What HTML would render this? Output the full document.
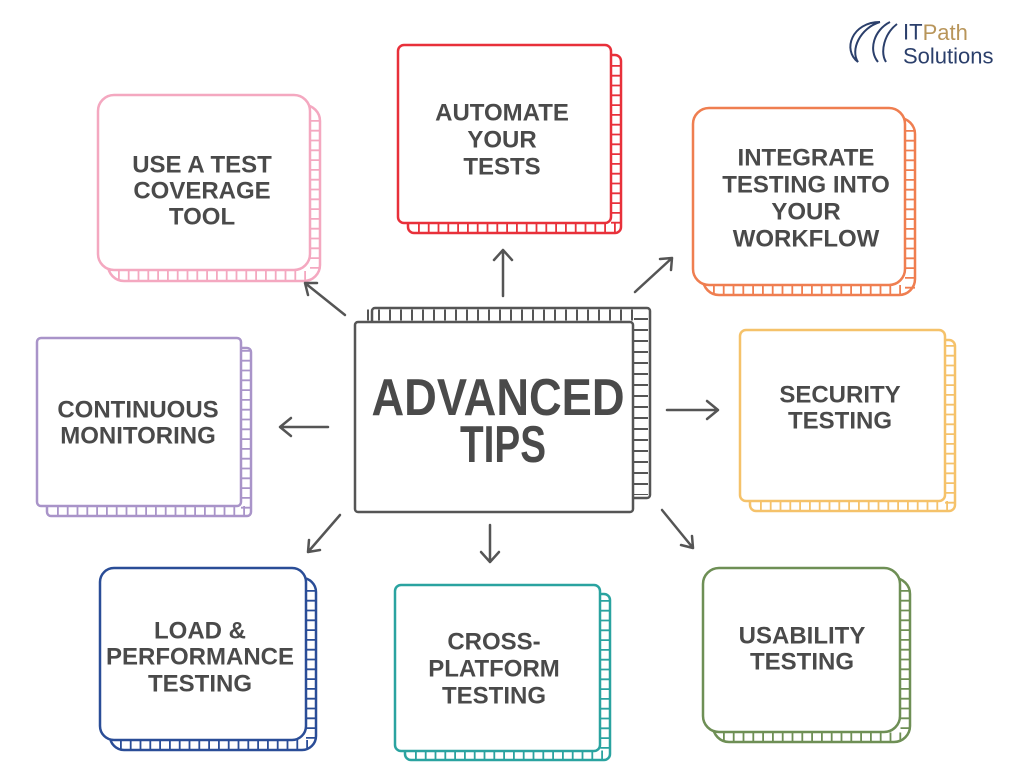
<!DOCTYPE html>
<html><head><meta charset="utf-8"><style>
html,body{margin:0;padding:0;background:#fff;width:1024px;height:768px;overflow:hidden}
svg text{font-family:"Liberation Sans",sans-serif;font-weight:bold;fill:#4a4a4a;text-anchor:middle;dominant-baseline:central}
.h{stroke-linecap:butt}
</style></head><body>
<svg width="1024" height="768" viewBox="0 0 1024 768" xmlns="http://www.w3.org/2000/svg">
<g fill="#fff" stroke-linecap="round">
<g stroke="#f4a8c0">
<rect x="108" y="105" width="212" height="176" rx="16" stroke-width="2.5"/>
<line class="h" x1="118" y1="276" x2="314" y2="276" stroke-width="10" stroke-dasharray="1.8 8"/>
<line class="h" x1="315" y1="120" x2="315" y2="276" stroke-width="10" stroke-dasharray="1.8 8"/>
<rect x="98" y="95" width="212" height="175" rx="16" stroke-width="2.5"/>
</g>
<g stroke="#e8303a">
<rect x="408" y="55" width="213" height="178" rx="6" stroke-width="2.5"/>
<line class="h" x1="418" y1="228" x2="616" y2="228" stroke-width="10" stroke-dasharray="1.8 8"/>
<line class="h" x1="616" y1="65" x2="616" y2="228" stroke-width="10" stroke-dasharray="1.8 8"/>
<rect x="398" y="45" width="213" height="178" rx="6" stroke-width="2.5"/>
</g>
<g stroke="#ef7e50">
<rect x="703" y="118" width="212" height="177" rx="16" stroke-width="2.5"/>
<line class="h" x1="713" y1="290" x2="909" y2="290" stroke-width="10" stroke-dasharray="1.8 8"/>
<line class="h" x1="910" y1="130" x2="910" y2="290" stroke-width="10" stroke-dasharray="1.8 8"/>
<rect x="693" y="108" width="212" height="177" rx="16" stroke-width="2.5"/>
</g>
<g stroke="#a994c9">
<rect x="47" y="348" width="204" height="168" rx="4" stroke-width="2.5"/>
<line class="h" x1="57" y1="511" x2="246" y2="511" stroke-width="10" stroke-dasharray="1.8 8"/>
<line class="h" x1="246" y1="350" x2="246" y2="511" stroke-width="10" stroke-dasharray="1.8 8"/>
<rect x="37" y="338" width="204" height="168" rx="4" stroke-width="2.5"/>
</g>
<g stroke="#f5c26a">
<rect x="750" y="340" width="205" height="171" rx="6" stroke-width="2.5"/>
<line class="h" x1="760" y1="506" x2="950" y2="506" stroke-width="10" stroke-dasharray="1.8 8"/>
<line class="h" x1="950" y1="345" x2="950" y2="506" stroke-width="10" stroke-dasharray="1.8 8"/>
<rect x="740" y="330" width="205" height="171" rx="6" stroke-width="2.5"/>
</g>
<g stroke="#2a4d97">
<rect x="110" y="578" width="206" height="172" rx="14" stroke-width="2.5"/>
<line class="h" x1="120" y1="745" x2="311" y2="745" stroke-width="10" stroke-dasharray="1.8 8"/>
<line class="h" x1="311" y1="590" x2="311" y2="745" stroke-width="10" stroke-dasharray="1.8 8"/>
<rect x="100" y="568" width="206" height="172" rx="14" stroke-width="2.5"/>
</g>
<g stroke="#2aa3a0">
<rect x="405" y="594" width="205" height="166" rx="6" stroke-width="2.5"/>
<line class="h" x1="415" y1="755" x2="605" y2="755" stroke-width="9" stroke-dasharray="1.8 8"/>
<line class="h" x1="605" y1="600" x2="605" y2="755" stroke-width="9" stroke-dasharray="1.8 8"/>
<rect x="395" y="585" width="205" height="166" rx="6" stroke-width="2.5"/>
</g>
<g stroke="#6e8f55">
<rect x="713" y="578" width="197" height="164" rx="16" stroke-width="2.5"/>
<line class="h" x1="723" y1="737" x2="905" y2="737" stroke-width="9" stroke-dasharray="1.8 8"/>
<line class="h" x1="905" y1="590" x2="905" y2="737" stroke-width="9" stroke-dasharray="1.8 8"/>
<rect x="703" y="568" width="197" height="164" rx="16" stroke-width="2.5"/>
</g>
<g stroke="#555">
<rect x="372" y="308" width="278" height="190" rx="3" stroke-width="2.5"/>
<line class="h" x1="367" y1="315" x2="640" y2="315" stroke-width="11" stroke-dasharray="2 9"/>
<line class="h" x1="641" y1="318" x2="641" y2="495" stroke-width="14" stroke-dasharray="2 9"/>
<rect x="355" y="322" width="278" height="190" rx="3" stroke-width="2.5"/>
</g>
</g>
<g stroke="#555" stroke-width="2.5" fill="none" stroke-linecap="round" stroke-linejoin="round">
<path d="M503 296 V250 M494 260 L503 250 L512 260"/>
<path d="M635 292 L672 258 M660 259 L672 258 L671 270"/>
<path d="M345 315 L305 283 M317 283 L305 283 L308 295"/>
<path d="M328 427 H280 M291 418 L280 427 L291 436"/>
<path d="M667 410 H718 M707 401 L718 410 L707 419"/>
<path d="M340 515 L308 552 M309 540 L308 552 L320 550"/>
<path d="M490 525 V562 M481 552 L490 562 L499 552"/>
<path d="M662 510 L693 548 M692 536 L693 548 L681 545"/>
</g>
<g font-size="24">
<text x="202" y="165">USE A TEST</text><text x="202" y="191">COVERAGE</text><text x="202" y="217">TOOL</text>
<text x="502" y="113">AUTOMATE</text><text x="502" y="140">YOUR</text><text x="502" y="167">TESTS</text>
<text x="806" y="158">INTEGRATE</text><text x="806" y="185">TESTING INTO</text><text x="806" y="212">YOUR</text><text x="806" y="239">WORKFLOW</text>
<text x="138" y="410">CONTINUOUS</text><text x="138" y="436">MONITORING</text>
<text x="840" y="395">SECURITY</text><text x="840" y="421">TESTING</text>
<text x="200" y="631">LOAD &amp;</text><text x="200" y="657">PERFORMANCE</text><text x="200" y="684">TESTING</text>
<text x="494" y="642">CROSS-</text><text x="494" y="669">PLATFORM</text><text x="494" y="696">TESTING</text>
<text x="802" y="636">USABILITY</text><text x="802" y="662">TESTING</text>
</g>
<text x="498" y="398" font-size="52" textLength="253" lengthAdjust="spacingAndGlyphs">ADVANCED</text>
<text x="503" y="445" font-size="52" textLength="86" lengthAdjust="spacingAndGlyphs">TIPS</text>
<g fill="none" stroke="#2b3f6b" stroke-width="2">
<path d="M880 22 C852 22 842 50 858 62 C850 50 860 28 880 22"/>
<path d="M890 22 C874 30 868 50 878 62"/>
<path d="M897 24 C884 34 880 52 886 62"/>
</g>
<text x="903" y="32" font-size="22" style="font-weight:normal;text-anchor:start;fill:#2b3f6b">IT<tspan style="fill:#b8955a">Path</tspan></text>
<text x="903" y="56" font-size="22" style="font-weight:normal;text-anchor:start;fill:#2b3f6b">Solutions</text>
</svg>
</body></html>
